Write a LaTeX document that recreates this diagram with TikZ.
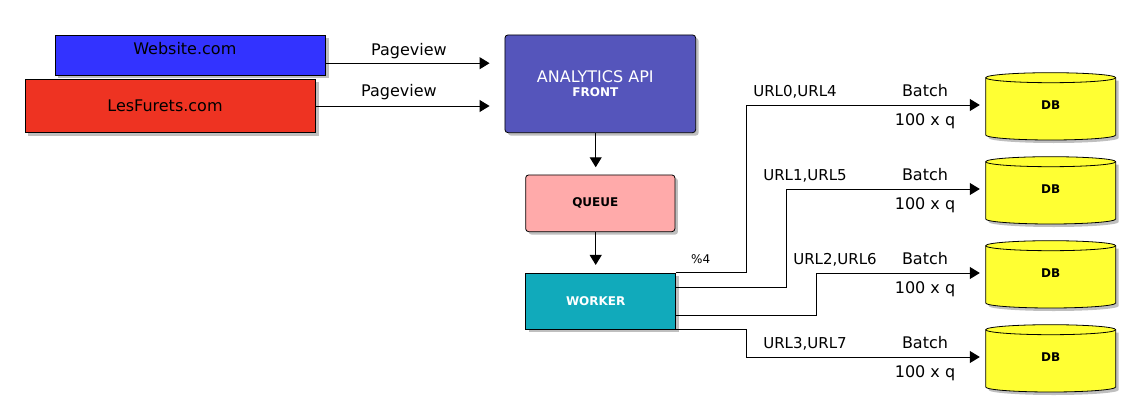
\documentclass[tikz,border=0pt]{standalone}
\usepackage{fontspec}
\setmainfont{DejaVu Sans}
\usetikzlibrary{arrows.meta,shadows,calc}
\definecolor{webblue}{HTML}{3333FF}
\definecolor{lesred}{HTML}{EE3322}
\definecolor{apiblue}{HTML}{5555BB}
\definecolor{queuepink}{HTML}{FFAAAA}
\definecolor{workerteal}{HTML}{11AABB}
\definecolor{dbyellow}{HTML}{FFFF33}
\newcommand\dbcyl[1]{%
  \fill[black,opacity=0.25] (988.7,{#1-24.3}) -- (988.7,{#1+33}) arc[start angle=180,end angle=360,x radius=65pt,y radius=5pt] -- (1118.7,{#1-24.3}) -- cycle;
  \filldraw[fill=dbyellow,draw=black,line width=0.8pt] (985.7,{#1-27.3}) -- (985.7,{#1+30}) arc[start angle=180,end angle=360,x radius=65pt,y radius=5pt] -- (1115.7,{#1-27.3}) arc[start angle=0,end angle=180,x radius=65pt,y radius=5pt] -- cycle;
  \draw[line width=0.8pt] (985.7,{#1-27.3}) arc[start angle=180,end angle=360,x radius=65pt,y radius=5pt];
}
\begin{document}
\begin{tikzpicture}[x=1pt,y=-1pt,
  box/.style={draw=black,line width=0.8pt,inner sep=0pt,
    drop shadow={shadow xshift=3pt,shadow yshift=-3pt,opacity=0.25,fill=black}},
  conn/.style={line width=1pt,-{Triangle[length=10pt,width=12pt]}},
  lbl/.style={font=\fontsize{16}{19}\selectfont,anchor=base,inner sep=0pt},
  urllbl/.style={font=\fontsize{15}{18}\selectfont,anchor=base,inner sep=0pt},
  smallbold/.style={font=\fontsize{12}{14}\selectfont\bfseries},
  dbtext/.style={minimum width=130pt,minimum height=67pt,inner sep=0pt,font=\fontsize{12}{14}\selectfont\bfseries}]
\fill[white] (0,0) rectangle (1140,420);
\useasboundingbox (0,0) rectangle (1140,420);

% sources
\node[box,fill=webblue,minimum width=270.7pt,minimum height=40.3pt,text depth=13pt,
  font=\fontsize{16}{19}\selectfont] (web) at (190.3,55.2) {Website.com\kern11pt};
\node[box,fill=lesred,minimum width=290.4pt,minimum height=53.4pt,
  font=\fontsize{16}{19}\selectfont] (les) at (170.5,106) {LesFurets.com\kern11pt};

% api
\node[box,fill=apiblue,rounded corners=3pt,minimum width=190.7pt,minimum height=97.7pt,
  text=white,align=center,font=\fontsize{16}{13.4}\selectfont] (api) at (600.3,83.8)
  {\hbox{ANALYTICS API\kern10pt}\\\hbox{\fontsize{12}{13.4}\selectfont\bfseries FRONT\kern10pt}};

% queue and worker
\node[box,fill=queuepink,rounded corners=3pt,minimum width=149.3pt,minimum height=56.7pt,
  smallbold] (queue) at (600.3,203.3) {QUEUE\kern10pt};
\node[box,fill=workerteal,minimum width=150pt,minimum height=55.7pt,
  smallbold,text=white] (worker) at (600.7,301.2) {WORKER\kern10pt};

% databases
\dbcyl{105}
\dbcyl{189}
\dbcyl{273}
\dbcyl{357}
\node[dbtext] (db1) at (1050.7,105) {DB};
\node[dbtext] (db2) at (1050.7,189) {DB};
\node[dbtext] (db3) at (1050.7,273) {DB};
\node[dbtext] (db4) at (1050.7,357) {DB};

% pageview arrows
\coordinate (wa) at ([yshift=-8pt]web.east);
\draw[conn,shorten >=15pt] (wa) -- (wa -| api.west);
\draw[conn,shorten >=15pt] (les.east) -- (les.east -| api.west);
\node[lbl] (pv1) at (409,55.2) {Pageview};
\node[lbl] (pv2) at (399,96.9) {Pageview};

% vertical arrows
\coordinate (a1) at ([xshift=-4.6pt]api.south);
\draw[conn,shorten >=7.3pt] (a1) -- (a1 |- queue.north);
\coordinate (q1) at ([xshift=-4.6pt]queue.south);
\draw[conn,shorten >=8pt] (q1) -- (q1 |- worker.north);

% worker to databases
\coordinate (w2) at ($(worker.north east)!0.25!(worker.south east)$);
\coordinate (w3) at ($(worker.north east)!0.75!(worker.south east)$);
\draw[conn,shorten >=5.7pt] (worker.north east) -- ++(70,0) |- (db1.west);
\draw[conn,shorten >=5.7pt] (w2) -- ++(110,0) |- (db2.west);
\draw[conn,shorten >=5.7pt] (w3) -- ++(140,0) |- (db3.west);
\draw[conn,shorten >=5.7pt] (worker.south east) -- ++(70,0) |- (db4.west);

\node[font=\fontsize{12}{14}\selectfont,anchor=base,inner sep=0pt] (mod) at (700.7,263.1) {\%4};

\node[urllbl] (u1) at (795,96.7) {URL0,URL4};
\node[urllbl] (u2) at (805,180.7) {URL1,URL5};
\node[urllbl] (u3) at (835,264.7) {URL2,URL6};
\node[urllbl] (u4) at (805,348.7) {URL3,URL7};

\node[lbl] (b1) at (925,96.7) {Batch};
\node[lbl] (b2) at (925,180.7) {Batch};
\node[lbl] (b3) at (925,264.7) {Batch};
\node[lbl] (b4) at (925,348.7) {Batch};
\node[lbl] (q1l) at (925,125.2) {100 x q};
\node[lbl] (q2l) at (925,209.2) {100 x q};
\node[lbl] (q3l) at (925,293.2) {100 x q};
\node[lbl] (q4l) at (925,377.2) {100 x q};
\end{tikzpicture}
\end{document}
